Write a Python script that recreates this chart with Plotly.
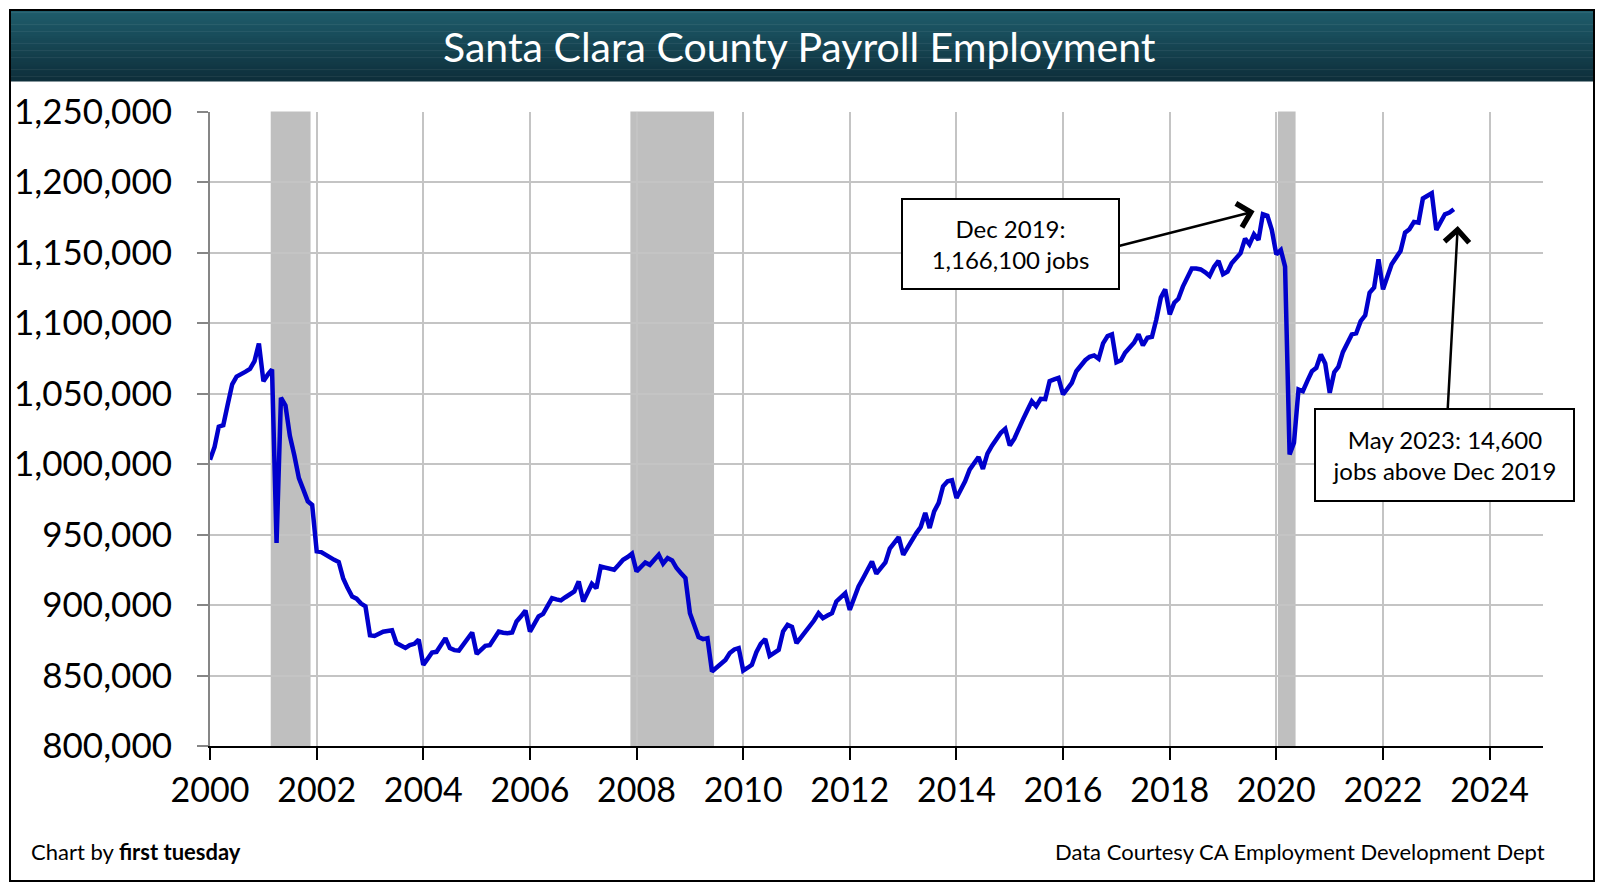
import numpy as np
import pandas as pd
import plotly.graph_objects as go

# monthly payroll jobs (Jan 2000 - May 2023)
jobs_2000 = [1003000, 1012000, 1026500, 1027500, 1042000, 1056500, 1062000, 1063500, 1065500, 1067500, 1073000, 1085500]
jobs_2001 = [1058700, 1063500, 1067000, 944000, 1047000, 1041500, 1020000, 1006000, 990000, 982000, 973500, 971000]
jobs_2002 = [938000, 937500, 935500, 933500, 932000, 930500, 919000, 912000, 906000, 904500, 901000, 899000]
jobs_2003 = [878500, 878000, 879500, 881000, 881500, 882000, 873000, 871000, 869500, 871500, 872500, 875500]
jobs_2004 = [857500, 862000, 866300, 866800, 871500, 876500, 869400, 868000, 867700, 872000, 876500, 880500]
jobs_2005 = [865300, 868000, 871000, 871500, 876000, 881200, 880300, 880000, 880500, 888300, 892000, 896100]
jobs_2006 = [881200, 887000, 891900, 893700, 899500, 904900, 904000, 903300, 905500, 907200, 909600, 916700]
jobs_2007 = [902500, 909000, 915000, 911900, 927300, 926500, 925500, 925000, 928500, 932100, 934000, 936400]
jobs_2008 = [923800, 927000, 930200, 928500, 932000, 935600, 929300, 933300, 931600, 926200, 922500, 919100]
jobs_2009 = [894200, 884700, 877200, 875800, 876500, 852800, 855500, 858200, 861000, 866000, 868500, 869400]
jobs_2010 = [853500, 855500, 857500, 866500, 872500, 875800, 863900, 866000, 868200, 881200, 885900, 884500]
jobs_2011 = [872900, 877000, 880500, 884700, 889000, 894200, 890700, 892500, 894200, 902500, 905500, 908400]
jobs_2012 = [896600, 905000, 913100, 919000, 925000, 930900, 922200, 926000, 930200, 940000, 944500, 948200]
jobs_2013 = [935600, 941000, 946800, 951000, 955300, 965300, 954600, 966400, 972400, 984200, 987700, 988500]
jobs_2014 = [975900, 982000, 987700, 996000, 1000500, 1005000, 996500, 1007400, 1013000, 1017800, 1022100, 1024900]
jobs_2015 = [1013100, 1018000, 1025000, 1031500, 1038000, 1044500, 1041000, 1046200, 1046000, 1058700, 1060000, 1061100]
jobs_2016 = [1049300, 1053500, 1057500, 1065800, 1069500, 1073600, 1076000, 1077000, 1074600, 1085500, 1090700, 1091900]
jobs_2017 = [1072200, 1073600, 1078900, 1083100, 1086000, 1091900, 1084100, 1089500, 1090200, 1102500, 1118000, 1123900]
jobs_2018 = [1106100, 1114400, 1117200, 1125800, 1132200, 1138600, 1138600, 1138000, 1136000, 1133400, 1140000, 1144000]
jobs_2019 = [1134600, 1136500, 1142300, 1146000, 1149500, 1159900, 1155800, 1162900, 1158900, 1177100, 1176000, 1166100]
jobs_2020 = [1148700, 1151800, 1140000, 1006700, 1015000, 1052800, 1051600, 1059000, 1065800, 1068200, 1077700, 1071300]
jobs_2021 = [1050500, 1065100, 1068900, 1079300, 1085500, 1091900, 1092600, 1101300, 1105400, 1121500, 1125100, 1145200]
jobs_2022 = [1123900, 1132200, 1141600, 1146500, 1151100, 1164100, 1166500, 1171700, 1171200, 1188300, 1190500, 1192000]
jobs_2023 = [1166000, 1171700, 1177100, 1178300, 1180700]

# recession shading
recession_starts = ["2001-02-20", "2007-11-20", "2020-01-12"]
recession_ends = ["2001-11-20", "2009-06-15", "2020-05-12"]

jobs = (jobs_2000 + jobs_2001 + jobs_2002 + jobs_2003 + jobs_2004 + jobs_2005 + jobs_2006
        + jobs_2007 + jobs_2008 + jobs_2009 + jobs_2010 + jobs_2011 + jobs_2012 + jobs_2013
        + jobs_2014 + jobs_2015 + jobs_2016 + jobs_2017 + jobs_2018 + jobs_2019 + jobs_2020
        + jobs_2021 + jobs_2022 + jobs_2023)
months = pd.date_range("2000-01-01", periods=len(jobs), freq="MS")

W, H = 1604, 888
FONT = "Lato"


def px_x(p):
    return p / W


def px_y(p):
    return 1 - p / H


fig = go.Figure()

for s, e in zip(recession_starts, recession_ends):
    fig.add_vrect(x0=s, x1=e, fillcolor="#bfbfbf", opacity=1, line_width=0, layer="below")

fig.add_trace(go.Scatter(
    x=months, y=jobs, mode="lines",
    line=dict(color="#0000cc", width=4.5),
    showlegend=False,
))

# title band with a vertical gradient (stacked strips)
top_c = np.array([31, 93, 108])
bot_c = np.array([14, 47, 59])
n_strips = 30
y_top, y_bot = 10, 81
for i in range(n_strips):
    t = i / (n_strips - 1)
    c = (top_c * (1 - t) + bot_c * t).astype(int)
    y0 = y_top + (y_bot - y_top) * i / n_strips
    y1 = y_top + (y_bot - y_top) * (i + 1) / n_strips
    fig.add_shape(type="rect", xref="paper", yref="paper",
                  x0=px_x(10), x1=px_x(1594), y0=px_y(y1 + 0.5), y1=px_y(y0),
                  fillcolor=f"rgb({c[0]},{c[1]},{c[2]})", line_width=0, layer="above")

# outer frame
fig.add_shape(type="rect", xref="paper", yref="paper",
              x0=px_x(10), x1=px_x(1594), y0=px_y(881), y1=px_y(10),
              line=dict(color="black", width=2), layer="above")

annotations = [
    # arrows
    dict(x="2019-08-05", y=1179200, ax="2016-12-04", ay=1153500, xref="x", yref="y",
         axref="x", ayref="y", text="", showarrow=True, arrowhead=4, arrowsize=1.9,
         arrowwidth=2.5, arrowcolor="black", standoff=0),
    dict(x="2023-05-28", y=1168800, ax="2023-03-20", ay=1038600, xref="x", yref="y",
         axref="x", ayref="y", text="", showarrow=True, arrowhead=4, arrowsize=1.9,
         arrowwidth=2.5, arrowcolor="black", standoff=0),
    # callout boxes
    dict(x=px_x(1010.5), y=px_y(244), xref="paper", yref="paper",
         text="Dec 2019:<br>1,166,100 jobs", showarrow=False,
         font=dict(family=FONT, size=24, color="black"),
         bgcolor="white", bordercolor="black", borderwidth=2, borderpad=1,
         width=213, height=86, align="center", valign="middle",
         xanchor="center", yanchor="middle"),
    dict(x=px_x(1444.5), y=px_y(455.5), xref="paper", yref="paper",
         text="May 2023: 14,600<br>jobs above Dec 2019", showarrow=False,
         font=dict(family=FONT, size=24, color="black"),
         bgcolor="white", bordercolor="black", borderwidth=2, borderpad=1,
         width=255, height=88, align="center", valign="middle",
         xanchor="center", yanchor="middle"),
    # title
    dict(x=px_x(799), y=px_y(46), xref="paper", yref="paper",
         text="Santa Clara County Payroll Employment", showarrow=False,
         font=dict(family=FONT, size=41, color="white"),
         xanchor="center", yanchor="middle"),
    # footers
    dict(x=px_x(29), y=px_y(851), xref="paper", yref="paper",
         text="Chart by <b>first tuesday</b>", showarrow=False,
         font=dict(family=FONT, size=22, color="black"),
         xanchor="left", yanchor="middle"),
    dict(x=px_x(1547), y=px_y(851), xref="paper", yref="paper",
         text="Data Courtesy CA Employment Development Dept", showarrow=False,
         font=dict(family=FONT, size=22, color="black"),
         xanchor="right", yanchor="middle"),
]

fig.update_layout(
    width=W, height=H, autosize=False,
    margin=dict(l=0, r=0, t=0, b=0),
    paper_bgcolor="white", plot_bgcolor="white",
    font=dict(family=FONT, color="black"),
    annotations=annotations,
    xaxis=dict(
        domain=[px_x(210), px_x(1543)],
        type="date", range=["2000-01-01", "2025-01-01"],
        tick0="2000-01-01", dtick="M24", tickformat="%Y",
        showgrid=True, gridcolor="#c4c4c4", gridwidth=1.8,
        showline=True, linecolor="black", linewidth=2,
        ticks="outside", ticklen=12, tickwidth=2, tickcolor="black",
        tickfont=dict(family=FONT, size=34, color="black"),
        ticklabelstandoff=1, zeroline=False, automargin=False,
    ),
    yaxis=dict(
        domain=[px_y(746), px_y(111.5)],
        range=[800000, 1250000], dtick=50000, tickformat=",d",
        showgrid=True, gridcolor="#c4c4c4", gridwidth=1.8,
        showline=True, linecolor="#868686", linewidth=2,
        ticks="outside", ticklen=11, tickwidth=2, tickcolor="#868686",
        tickfont=dict(family=FONT, size=35, color="black"),
        ticklabelstandoff=18, zeroline=False, automargin=False,
    ),
)

fig.write_html("out.html", config={"displayModeBar": False},
               post_script="document.body.style.margin='0';document.body.style.overflow='hidden';")
